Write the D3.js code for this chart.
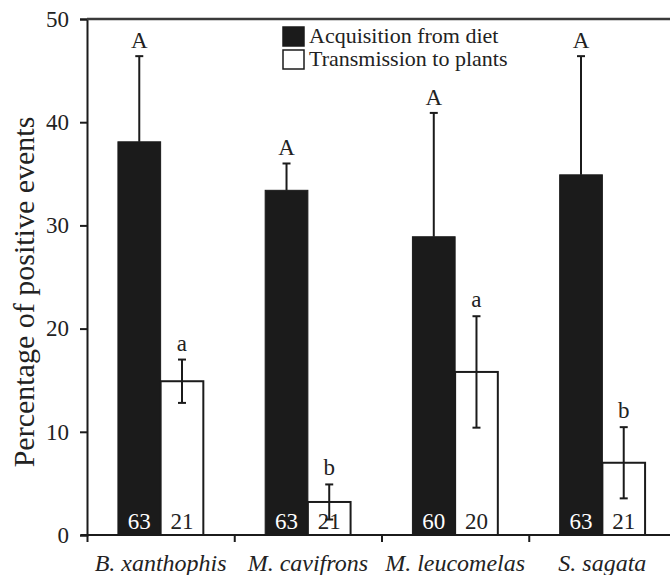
<html>
<head>
<style>
body { margin: 0; background: #fff; }
text { font-family: "Liberation Serif", "Times New Roman", serif; }
</style>
</head>
<body>
<div id="chart"></div>
<script src="https://d3js.org/d3.v7.min.js"></script>
<script>

var species = ["B. xanthophis", "M. cavifrons", "M. leucomelas", "S. sagata"]
var acquisition = [38.1, 33.4, 28.9, 34.9]
var acquisitionErr = [8.3, 2.6, 12.0, 11.5]
var transmission = [14.9, 3.2, 15.8, 7.0]
var transmissionErr = [2.1, 1.7, 5.4, 3.45]
var acqLetters = ["A", "A", "A", "A"]
var transLetters = ["a", "b", "a", "b"]
var acqN = [63, 63, 60, 63]
var transN = [21, 21, 20, 21]
var yTicks = [0, 10, 20, 30, 40, 50]
var legendLabels = ["Acquisition from diet", "Transmission to plants"]

var ink = "#1b1b1b"

var W = 670, H = 575
var margin = {top: 19, left: 87, bottom: 40}
var plotRight = 676   // the frame runs past the picture edge

var svg = d3.select("#chart")
  .append("svg")
  .attr("width", W)
  .attr("height", H)

var x = d3.scaleBand()
  .domain(species)
  .range([margin.left, plotRight])

var y = d3.scaleLinear()
  .domain([0, 50])
  .range([H - margin.bottom, margin.top])

var barW = x.bandwidth() * 0.29

// y axis
var yAxis = d3.axisLeft(y)
  .tickValues(yTicks)
  .tickSize(7)
  .tickPadding(11)

var gy = svg.append("g")
  .attr("transform", "translate(" + margin.left + ",0)")
  .call(yAxis)
gy.select(".domain").attr("stroke", ink).attr("stroke-width", 2)
gy.selectAll(".tick line").attr("stroke", ink).attr("stroke-width", 2)
gy.selectAll(".tick text")
  .style("font-family", "Liberation Serif")
  .style("font-size", "23px")
  .attr("fill", "#222")

// x axis: ticks on the band edges
var edges = species.map(function(d){ return x(d) })
var xAxis = d3.axisBottom(d3.scaleLinear().domain([margin.left, plotRight]).range([margin.left, plotRight]))
  .tickValues(edges)
  .tickSize(7)
  .tickFormat("")
var gx = svg.append("g")
  .attr("transform", "translate(0," + y(0) + ")")
  .call(xAxis)
gx.select(".domain").remove()
gx.selectAll(".tick line").attr("stroke", ink).attr("stroke-width", 2)
svg.append("line")
  .attr("x1", margin.left - 6)
  .attr("x2", plotRight)
  .attr("y1", y(0))
  .attr("y2", y(0))
  .attr("stroke", ink)
  .attr("stroke-width", 2)

// top frame line
svg.append("line")
  .attr("x1", margin.left)
  .attr("x2", plotRight)
  .attr("y1", y(50))
  .attr("y2", y(50))
  .attr("stroke", "#3a3a3a")
  .attr("stroke-width", 2.5)

// category labels
svg.selectAll(".catLabel")
  .data(species)
  .enter()
  .append("text")
  .attr("class", "catLabel")
  .attr("x", d => x(d) + x.bandwidth() / 2)
  .attr("y", 571)
  .attr("text-anchor", "middle")
  .style("font-size", "24px")
  .style("font-style", "italic")
  .attr("fill", "#222")
  .text(d => d)

// y title
svg.append("text")
  .attr("transform", "translate(34," + 292 + ") rotate(-90)")
  .attr("text-anchor", "middle")
  .style("font-size", "30px")
  .attr("fill", "#222")
  .text("Percentage of positive events")

var groups = svg.selectAll("g.sp")
  .data(species)
  .enter()
  .append("g")
  .attr("class", "sp")

var center = d => x(d) + x.bandwidth() / 2

// black bars
groups.append("rect")
  .attr("x", d => center(d) - barW)
  .attr("y", (d, i) => y(acquisition[i]))
  .attr("width", barW)
  .attr("height", (d, i) => y(0) - y(acquisition[i]))
  .attr("fill", ink)
  .attr("stroke", ink)
  .attr("stroke-width", 1)

// white bars
groups.append("rect")
  .attr("x", d => center(d))
  .attr("y", (d, i) => y(transmission[i]))
  .attr("width", barW)
  .attr("height", (d, i) => y(0) - y(transmission[i]))
  .attr("fill", "#fff")
  .attr("stroke", ink)
  .attr("stroke-width", 2)

// error bars for acquisition (upper half)
groups.append("line")
  .attr("x1", d => center(d) - barW / 2)
  .attr("x2", d => center(d) - barW / 2)
  .attr("y1", (d, i) => y(acquisition[i]))
  .attr("y2", (d, i) => y(acquisition[i] + acquisitionErr[i]))
  .attr("stroke", ink)
  .attr("stroke-width", 2)
groups.append("line")
  .attr("x1", d => center(d) - barW / 2 - 4)
  .attr("x2", d => center(d) - barW / 2 + 4)
  .attr("y1", (d, i) => y(acquisition[i] + acquisitionErr[i]))
  .attr("y2", (d, i) => y(acquisition[i] + acquisitionErr[i]))
  .attr("stroke", ink)
  .attr("stroke-width", 2)

// counts
groups.append("text")
  .attr("x", d => center(d) - barW / 2)
  .attr("y", 529)
  .attr("text-anchor", "middle")
  .style("font-size", "23px")
  .attr("fill", "#fff")
  .text((d, i) => acqN[i])
groups.append("text")
  .attr("x", d => center(d) + barW / 2)
  .attr("y", 529)
  .attr("text-anchor", "middle")
  .style("font-size", "23px")
  .attr("fill", "#222")
  .text((d, i) => transN[i])

// error bars for transmission (both halves)
groups.append("line")
  .attr("x1", d => center(d) + barW / 2)
  .attr("x2", d => center(d) + barW / 2)
  .attr("y1", (d, i) => y(transmission[i] - transmissionErr[i]))
  .attr("y2", (d, i) => y(transmission[i] + transmissionErr[i]))
  .attr("stroke", ink)
  .attr("stroke-width", 2)
;[-1, 1].forEach(function(s){
  groups.append("line")
    .attr("x1", d => center(d) + barW / 2 - 4)
    .attr("x2", d => center(d) + barW / 2 + 4)
    .attr("y1", (d, i) => y(transmission[i] + s * transmissionErr[i]))
    .attr("y2", (d, i) => y(transmission[i] + s * transmissionErr[i]))
    .attr("stroke", ink)
    .attr("stroke-width", 2)
})

// significance letters
groups.append("text")
  .attr("x", d => center(d) - barW / 2)
  .attr("y", (d, i) => y(acquisition[i] + acquisitionErr[i]) - 8)
  .attr("text-anchor", "middle")
  .style("font-size", "23px")
  .attr("fill", "#222")
  .text((d, i) => acqLetters[i])
groups.append("text")
  .attr("x", d => center(d) + barW / 2)
  .attr("y", (d, i) => y(transmission[i] + transmissionErr[i]) - 9)
  .attr("text-anchor", "middle")
  .style("font-size", "23px")
  .attr("fill", "#222")
  .text((d, i) => transLetters[i])

// legend
var legend = svg.append("g").attr("transform", "translate(283,27)")
legend.selectAll("rect")
  .data(legendLabels)
  .enter()
  .append("rect")
  .attr("x", 0)
  .attr("y", (d, i) => i * 23)
  .attr("width", 21)
  .attr("height", 19)
  .attr("fill", (d, i) => i == 0 ? ink : "#fff")
  .attr("stroke", ink)
  .attr("stroke-width", 1.5)
legend.selectAll("text")
  .data(legendLabels)
  .enter()
  .append("text")
  .attr("x", 26)
  .attr("y", (d, i) => 16 + i * 23)
  .style("font-size", "22px")
  .attr("fill", "#222")
  .text(d => d)

</script>
</body>
</html>
